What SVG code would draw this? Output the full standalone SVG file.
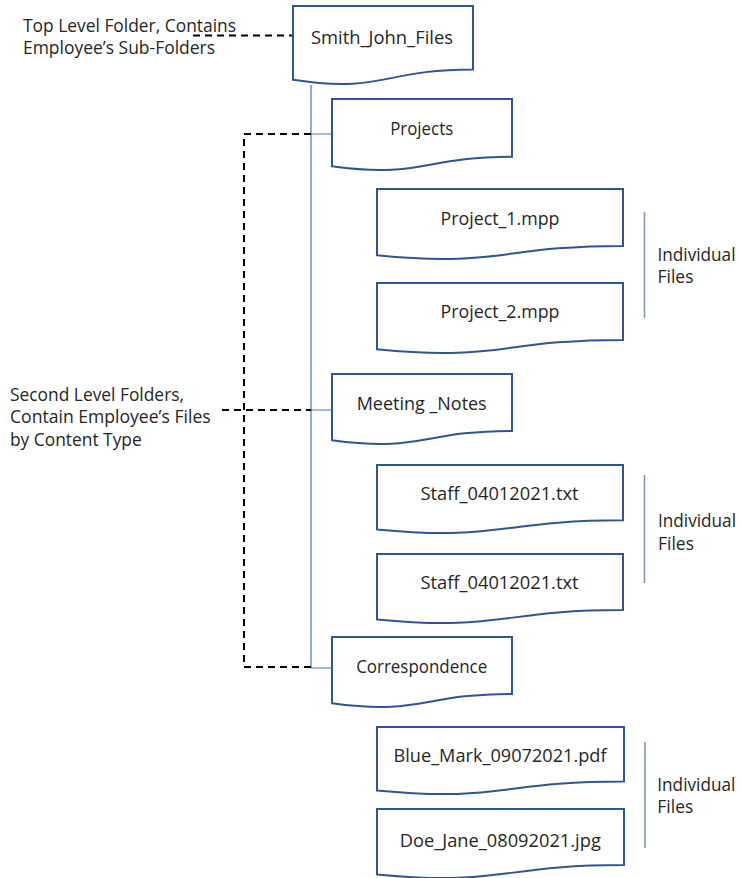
<svg xmlns="http://www.w3.org/2000/svg" width="740" height="878" viewBox="0 0 740 878">
<style>
.doc{fill:#fff;stroke:#2F5597;stroke-width:2}
.t{font-family:"Open Sans","Liberation Sans",sans-serif;font-size:18px;fill:#262626}
.c{text-anchor:middle}
.tree{fill:none;stroke:#4472C4;stroke-width:1.2}
.dash{fill:none;stroke:#000;stroke-width:2;stroke-dasharray:7 5}
.bar{stroke:#8497B0;stroke-width:1.6}
</style>
<rect width="740" height="878" fill="#fff"/>
<g id="connectors">
<path class="tree" d="M311 85 V668 M311 134 H332 M311 410 H332 M311 668 H332"/>
<path class="dash" d="M193 35.5 H293"/>
<path class="dash" d="M311 134 H244 V667 H311"/>
<path class="dash" d="M222 410 H311"/>
</g>
<g id="smith_john_files"><path class="doc" d="M293 6 H473 V69.4 C383 69.4 383 93.5 293 79.8 Z"/><text class="t c" x="382" y="44" textLength="142" lengthAdjust="spacingAndGlyphs">Smith_John_Files</text></g>
<g id="projects"><path class="doc" d="M332 99 H512 V156.7 C422 156.7 422 178.7 332 166.2 Z"/><text class="t c" x="421.7" y="134.5" textLength="63" lengthAdjust="spacingAndGlyphs">Projects</text></g>
<g id="project_1"><path class="doc" d="M377 189 H623 V245.9 C500 245.9 500 267.6 377 255.3 Z"/><text class="t c" x="500" y="225" textLength="119" lengthAdjust="spacingAndGlyphs">Project_1.mpp</text></g>
<g id="project_2"><path class="doc" d="M377 283 H623 V339.9 C500 339.9 500 361.6 377 349.3 Z"/><text class="t c" x="500" y="318" textLength="119" lengthAdjust="spacingAndGlyphs">Project_2.mpp</text></g>
<g id="meeting_notes"><path class="doc" d="M332 374 H512 V430.9 C422 430.9 422 452.6 332 440.3 Z"/><text class="t c" x="421.7" y="409.5" textLength="130" lengthAdjust="spacingAndGlyphs">Meeting _Notes</text></g>
<g id="staff_1"><path class="doc" d="M377 465 H623 V520.3 C500 520.3 500 541.4 377 529.4 Z"/><text class="t c" x="499.5" y="499.5" textLength="158" lengthAdjust="spacingAndGlyphs">Staff_04012021.txt</text></g>
<g id="staff_2"><path class="doc" d="M377 554 H623 V610.1 C500 610.1 500 631.5 377 619.4 Z"/><text class="t c" x="499.5" y="588.5" textLength="158" lengthAdjust="spacingAndGlyphs">Staff_04012021.txt</text></g>
<g id="correspondence"><path class="doc" d="M332 637 H512 V693.9 C422 693.9 422 715.6 332 703.3 Z"/><text class="t c" x="421.7" y="673.3" textLength="131" lengthAdjust="spacingAndGlyphs">Correspondence</text></g>
<g id="blue_mark"><path class="doc" d="M377 727 H624 V781.5 C500.5 781.5 500.5 802.3 377 790.5 Z"/><text class="t c" x="500" y="761.7" textLength="213" lengthAdjust="spacingAndGlyphs">Blue_Mark_09072021.pdf</text></g>
<g id="doe_jane"><path class="doc" d="M377 809 H624 V865.1 C500.5 865.1 500.5 886.5 377 874.4 Z"/><text class="t c" x="500.3" y="847.3" textLength="201" lengthAdjust="spacingAndGlyphs">Doe_Jane_08092021.jpg</text></g>
<g id="label_top"><text class="t" x="23" y="31.7" textLength="213" lengthAdjust="spacingAndGlyphs">Top Level Folder, Contains</text><text class="t" x="23" y="54.3" textLength="192" lengthAdjust="spacingAndGlyphs">Employee’s Sub-Folders</text></g>
<g id="label_second"><text class="t" x="10" y="400.5" textLength="174" lengthAdjust="spacingAndGlyphs">Second Level  Folders,</text><text class="t" x="10" y="423.3" textLength="200.7" lengthAdjust="spacingAndGlyphs">Contain Employee’s Files</text><text class="t" x="10" y="446" textLength="131.7" lengthAdjust="spacingAndGlyphs">by Content Type</text></g>
<g id="individual_1"><line class="bar" x1="644.5" y1="212" x2="644.5" y2="318"/><text class="t" x="657.5" y="260.7" textLength="78" lengthAdjust="spacingAndGlyphs">Individual</text><text class="t" x="657.5" y="283.3" textLength="36" lengthAdjust="spacingAndGlyphs">Files</text></g>
<g id="individual_2"><line class="bar" x1="644.5" y1="475" x2="644.5" y2="583"/><text class="t" x="658" y="526.7" textLength="78" lengthAdjust="spacingAndGlyphs">Individual</text><text class="t" x="658" y="549.7" textLength="36" lengthAdjust="spacingAndGlyphs">Files</text></g>
<g id="individual_3"><line class="bar" x1="645" y1="742" x2="645" y2="848"/><text class="t" x="657.3" y="790.7" textLength="78" lengthAdjust="spacingAndGlyphs">Individual</text><text class="t" x="657.3" y="813.3" textLength="36" lengthAdjust="spacingAndGlyphs">Files</text></g>
</svg>
